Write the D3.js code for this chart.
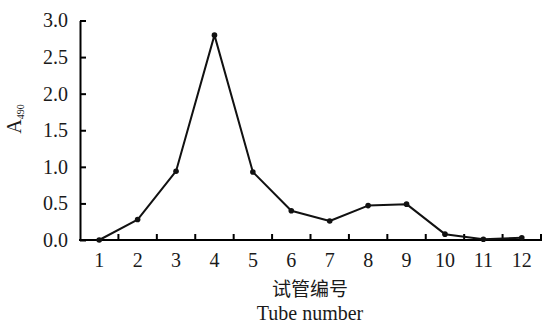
<!DOCTYPE html>
<html><head><meta charset="utf-8">
<script src="https://cdn.jsdelivr.net/npm/d3@7"></script>
<style>body{margin:0;background:#fff}svg{display:block}</style>
</head><body>
<svg id="c" width="542" height="323"></svg>
<script>
const categories = ["1","2","3","4","5","6","7","8","9","10","11","12"];
const values = [0.00, 0.28, 0.94, 2.80, 0.93, 0.40, 0.26, 0.47, 0.49, 0.08, 0.01, 0.03];
const yTicks = [0, 0.5, 1.0, 1.5, 2.0, 2.5, 3.0];
const xTitleCn = "试管编号";
const xTitleEn = "Tube number";

const svg = d3.select("#c");
const x = d3.scaleBand().domain(categories).range([80, 541]).padding(0);
const y = d3.scaleLinear().domain([0, 3]).range([240, 20.5]);
const serif = "'Liberation Serif','Times New Roman',serif";

// y axis
const ya = svg.append("g").attr("transform","translate(80,0)")
  .call(d3.axisLeft(y).tickValues(yTicks).tickFormat(d3.format(".1f")).tickSizeInner(-6).tickSizeOuter(0).tickPadding(12));
ya.select(".domain").attr("stroke","#000").attr("stroke-width",2);
ya.selectAll(".tick line").attr("stroke","#000").attr("stroke-width",2);
ya.selectAll("text").attr("font-family",serif).attr("font-size",20).attr("fill","#1a1a1a");

// x axis
const xa = svg.append("g").attr("transform","translate(0,240)")
  .call(d3.axisBottom(x).tickSize(0).tickPadding(13));
xa.select(".domain").attr("stroke","#000").attr("stroke-width",2).attr("d","M79,0H542");
xa.selectAll("text").attr("font-family",serif).attr("font-size",20).attr("fill","#1a1a1a");
// boundary ticks (inward)
xa.selectAll(".bt").data(categories.slice(1).concat(["end"])).enter().append("line")
  .attr("class","bt")
  .attr("x1",(d,i)=> x(categories[i]) + x.bandwidth())
  .attr("x2",(d,i)=> x(categories[i]) + x.bandwidth())
  .attr("y1",0).attr("y2",-6).attr("stroke","#000").attr("stroke-width",2);

// line
const line = d3.line().x((d,i)=>x(categories[i])+x.bandwidth()/2).y(d=>y(d));
svg.append("path").datum(values).attr("d",line).attr("fill","none")
  .attr("stroke","#111").attr("stroke-width",2).attr("stroke-linejoin","round");
svg.selectAll(".pt").data(values).enter().append("circle").attr("class","pt")
  .attr("cx",(d,i)=>x(categories[i])+x.bandwidth()/2).attr("cy",d=>y(d)).attr("r",2.8).attr("fill","#111");

// titles
svg.append("text").attr("x",310).attr("y",296).attr("text-anchor","middle")
  .attr("font-family","'Noto Sans CJK SC',sans-serif").attr("font-size",19).attr("fill","#1a1a1a").text(xTitleCn);
svg.append("text").attr("x",310).attr("y",320).attr("text-anchor","middle")
  .attr("font-family",serif).attr("font-size",20).attr("fill","#1a1a1a").text(xTitleEn);
const yt = svg.append("text").attr("transform","translate(21,119) rotate(-90)").attr("text-anchor","middle")
  .attr("font-family",serif).attr("font-size",20).attr("fill","#1a1a1a");
yt.append("tspan").text("A");
yt.append("tspan").attr("font-size",10).attr("dy",3).text("490");
</script>
</body></html>
